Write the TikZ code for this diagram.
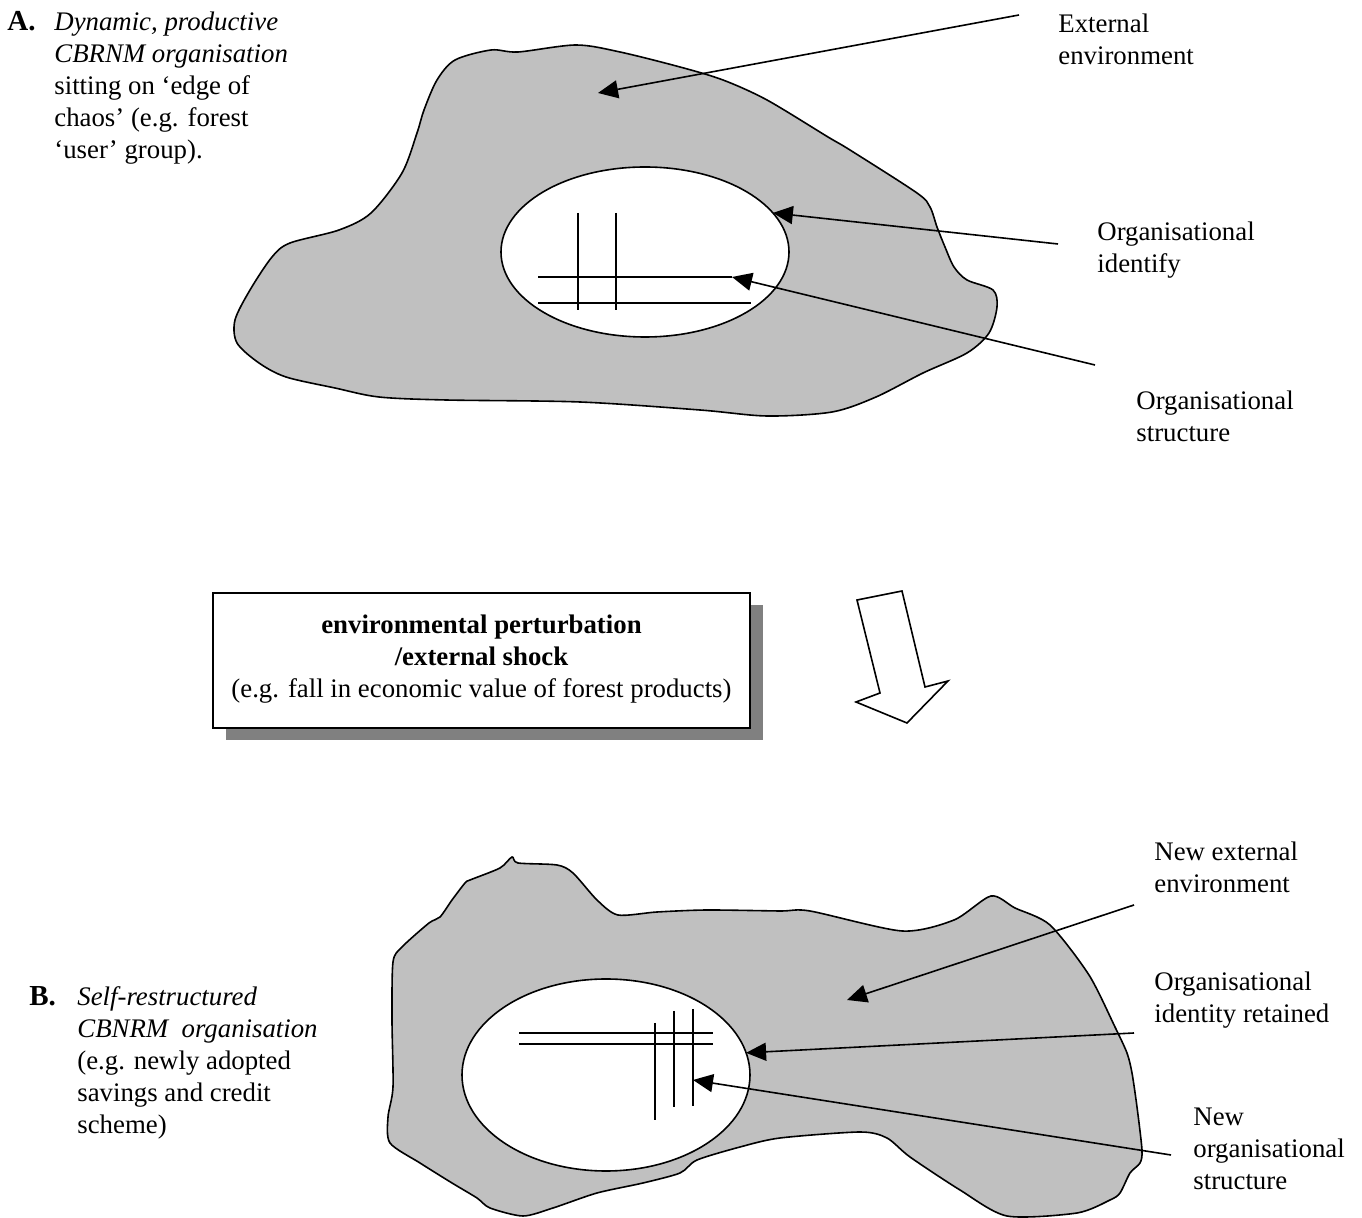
\documentclass[tikz,border=0pt]{standalone}
\usepackage{fontspec}
\setmainfont{Liberation Serif}
\usetikzlibrary{arrows.meta,shapes.geometric,shadows}
\definecolor{blobGray}{HTML}{C0C0C0}
\definecolor{shadowGray}{HTML}{808080}

\begin{document}
\begin{tikzpicture}[
  x=0.5pt, y=-0.5pt,
  >={Triangle[length=10pt,width=9pt]},
  every node/.style={font=\fontsize{13.4}{16}\selectfont},
  blob/.style={draw, fill=blobGray, line width=0.8pt},
  orgellipse/.style={ellipse, draw, fill=white, line width=0.8pt,
    inner sep=0pt, outer sep=0pt},
  gridline/.style={line width=0.9pt},
  pointer/.style={->, line width=0.8pt},
  tagletter/.style={font=\fontsize{14.5}{16}\selectfont\bfseries,
    anchor=base west, inner sep=0pt},
  caption/.style={anchor=base west, align=left, inner sep=0pt},
  sidelabel/.style={anchor=base west, align=left, inner sep=0pt},
  shockbox/.style={rectangle, draw, fill=white, line width=0.8pt,
    align=center, minimum width=268.5pt, minimum height=67.5pt,
    drop shadow={shadow xshift=6.5pt, shadow yshift=-6pt,
      fill=shadowGray, opacity=1}},
]
\useasboundingbox (0,0) rectangle (1362,1218);

% ======= A: organisation before the shock =======
\draw[blob] plot[smooth cycle, tension=0.5] coordinates {
  (576,45) (620,52) (680,67) (723,80) (767,100) (828,137) (850,150)
  (917,193) (930,207) (937,227) (945,247) (954,267) (967,280) (993,290)
  (997,307) (989,333) (967,353) (923,373) (876,397) (832,412) (767,416)
  (700,410) (580,402) (446,400) (379,397) (335,388) (286,377) (259,363)
  (237,343) (235,320) (250,290) (272,257) (290,243) (339,230) (371,213)
  (402,173) (417,133) (424,110) (437,80) (455,60) (491,50) (518,52)};
\node[orgellipse, minimum width=144pt, minimum height=85pt] (ellA) at (645,252) {};

% structure grid
\coordinate (gridA) at (732,277);
\draw[gridline] (578,213) -- (578,310) (616,213) -- (616,310);
\draw[gridline] (538,277) -- (gridA) (538,303) -- (751,303);

% base anchor = baseline of the last line
\node[tagletter] (tagA) at (7,31) {A.};
\node[caption] (capA) at (54,159)
  {\textit{Dynamic, productive}\\\textit{CBRNM organisation}\\sitting on ‘edge of\\chaos’ (e.g. forest\\‘user’ group).};

\node[sidelabel] (extA) at (1058,65) {External\\environment};
\node[sidelabel] (idA) at (1097,273) {Organisational\\identify};
\node[sidelabel] (strA) at (1136,442) {Organisational\\structure};

\coordinate (extAend) at (1019,15);
\coordinate (extAtip) at (598,93);
\coordinate (idAend) at (1058,244);
\coordinate (strAend) at (1095,365);
\draw[pointer] (extAend) -- (extAtip);
\draw[pointer] (idAend) -- (ellA.17);
\draw[pointer] (strAend) -- (gridA);

% ======= Shock =======
\node[shockbox] (shock) at (481.5,660.5)
  {\textbf{environmental perturbation}\\\textbf{/external shock}\\(e.g. fall in economic value of forest products)\rule[-4pt]{0pt}{1pt}};
\draw[line width=0.8pt, fill=white] (857,600) -- (902,591) -- (925,687)
  -- (948,681) -- (907,723) -- (856,702) -- (880,693) -- cycle;

% ======= B: organisation after the shock =======
\draw[blob] plot[smooth cycle, tension=0.45] coordinates {
  (512,857) (518,863) (557,865) (573,873) (597,900) (618,915) (657,912)
  (707,910) (780,911) (810,911) (902,931) (954,920) (991,896) (1015,908)
  (1050,925) (1089,975) (1115,1027) (1127,1053) (1132,1073) (1137,1107)
  (1142,1150) (1140,1163) (1130,1173) (1120,1193) (1110,1200) (1077,1213)
  (1007,1216) (960,1190) (910,1157) (887,1138) (860,1132) (780,1138)
  (740,1147) (697,1160) (680,1173) (643,1183) (597,1193) (553,1208)
  (523,1216) (490,1208) (477,1198) (452,1183) (420,1163) (390,1143)
  (388,1117) (393,1087) (392,1020) (393,962) (402,947) (429,923)
  (440,917) (452,900) (465,883) (470,880) (500,868)};
\node[orgellipse, minimum width=144pt, minimum height=96pt] (ellB) at (606,1075) {};

% new structure grid
\coordinate (gridB) at (693,1080);
\draw[gridline] (519,1033) -- (713,1033) (519,1044) -- (713,1044);
\draw[gridline] (655,1023) -- (655,1120) (674,1011) -- (674,1107) (693,1009) -- (693,1106);

\node[tagletter] (tagB) at (29,1006) {B.};
\node[caption] (capB) at (77,1134)
  {\textit{Self-restructured}\\\textit{CBNRM~~organisation}\\(e.g. newly adopted\\savings and credit\\scheme)};

\node[sidelabel] (extB) at (1154,893) {New external\\environment};
\node[sidelabel] (idB) at (1154,1023) {Organisational\\identity retained};
\node[sidelabel] (strB) at (1193,1190) {New\\organisational\\structure};

\coordinate (extBend) at (1134,905);
\coordinate (extBtip) at (847,1000);
\coordinate (idBend) at (1134,1033);
\coordinate (strBend) at (1171,1155);
\draw[pointer] (extBend) -- (extBtip);
\draw[pointer] (idBend) -- (ellB.9);
\draw[pointer] (strBend) -- (gridB);

\end{tikzpicture}
\end{document}
